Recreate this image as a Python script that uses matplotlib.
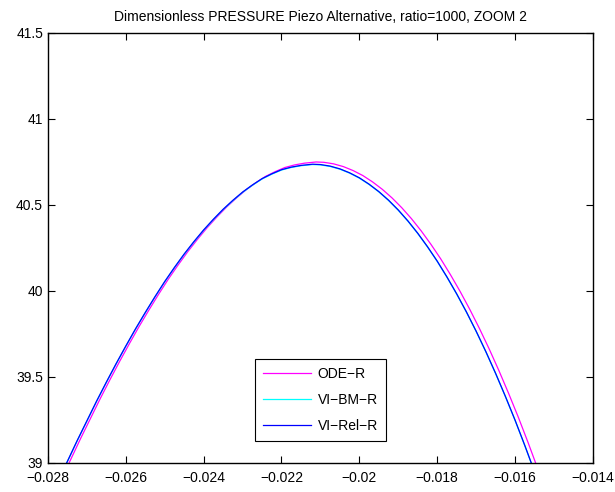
import matplotlib
matplotlib.use("Agg")
import matplotlib.pyplot as plt

plt.rcParams['font.family'] = ['Liberation Sans', 'DejaVu Sans']

# VI-Rel-R (blue)
rel_x = [-0.0276, -0.0275, -0.02725, -0.0270, -0.02675, -0.0265, -0.02625, -0.0260,
         -0.02575, -0.0255, -0.02525, -0.0250, -0.02475, -0.0245, -0.02425, -0.0240,
         -0.02375, -0.0235, -0.02325, -0.0230, -0.02275, -0.0225, -0.02225, -0.0220,
         -0.02175, -0.0215, -0.0212, -0.0210, -0.02075, -0.0205, -0.02025, -0.0200,
         -0.01975, -0.0195, -0.01925, -0.0190, -0.01875, -0.0185, -0.01825, -0.0180,
         -0.01775, -0.0175, -0.01725, -0.0170, -0.01675, -0.0165, -0.01625, -0.0160,
         -0.01575, -0.0155]
rel_y = [38.963, 39.01, 39.13, 39.245, 39.36, 39.47, 39.577, 39.68,
         39.78, 39.875, 39.967, 40.055, 40.137, 40.215, 40.287, 40.355,
         40.417, 40.475, 40.527, 40.575, 40.616, 40.653, 40.681, 40.705,
         40.72, 40.73, 40.737, 40.735, 40.726, 40.710, 40.687, 40.658,
         40.621, 40.578, 40.528, 40.471, 40.407, 40.336, 40.258, 40.174,
         40.082, 39.984, 39.879, 39.767, 39.648, 39.522, 39.389, 39.250,
         39.103, 38.950]

# VI-BM-R (cyan), almost on top of the blue one
bm_x = rel_x
bm_y = [38.961, 39.008, 39.128, 39.243, 39.358, 39.468, 39.575, 39.678,
        39.778, 39.873, 39.965, 40.053, 40.135, 40.213, 40.285, 40.353,
        40.415, 40.473, 40.525, 40.573, 40.614, 40.651, 40.679, 40.703,
        40.718, 40.728, 40.735, 40.733, 40.724, 40.708, 40.685, 40.656,
        40.619, 40.576, 40.526, 40.469, 40.405, 40.334, 40.256, 40.172,
        40.080, 39.982, 39.877, 39.765, 39.646, 39.520, 39.387, 39.248,
        39.101, 38.948]

# ODE-R (magenta), slightly higher and to the right
ode_x = [-0.02751, -0.02741, -0.02716, -0.02691, -0.02666, -0.02641, -0.02616, -0.02591,
         -0.02566, -0.02541, -0.02516, -0.02491, -0.02466, -0.02441, -0.02416, -0.02391,
         -0.02366, -0.02341, -0.02316, -0.02291, -0.02266, -0.02241, -0.02216, -0.02191,
         -0.02166, -0.02141, -0.02111, -0.02091, -0.02066, -0.02041, -0.02016, -0.01991,
         -0.01966, -0.01941, -0.01916, -0.01891, -0.01866, -0.01841, -0.01816, -0.01791,
         -0.01766, -0.01741, -0.01716, -0.01691, -0.01666, -0.01641, -0.01616, -0.01591,
         -0.01566, -0.01541]
ode_y = [38.976, 39.023, 39.143, 39.258, 39.373, 39.483, 39.590, 39.693,
         39.793, 39.888, 39.980, 40.068, 40.150, 40.228, 40.300, 40.368,
         40.430, 40.488, 40.540, 40.588, 40.629, 40.666, 40.694, 40.718,
         40.733, 40.743, 40.750, 40.748, 40.739, 40.723, 40.700, 40.671,
         40.634, 40.591, 40.541, 40.484, 40.420, 40.349, 40.271, 40.187,
         40.095, 39.997, 39.892, 39.780, 39.661, 39.535, 39.402, 39.263,
         39.116, 38.963]

xticks = [-0.028, -0.026, -0.024, -0.022, -0.02, -0.018, -0.016, -0.014]
xlabels = ['\u22120.028', '\u22120.026', '\u22120.024', '\u22120.022',
           '\u22120.02', '\u22120.018', '\u22120.016', '\u22120.014']
yticks = [39, 39.5, 40, 40.5, 41, 41.5]
ylabels = ['39', '39.5', '40', '40.5', '41', '41.5']

fig = plt.figure(figsize=(6.15, 4.92), dpi=100)
ax = fig.add_axes([0.078, 0.059, 0.886, 0.874])

ax.plot(ode_x, ode_y, color='#ff00ff', lw=0.9, label='ODE\u2212R')
ax.plot(bm_x, bm_y, color='#00ffff', lw=0.9, label='VI\u2212BM\u2212R')
ax.plot(rel_x, rel_y, color='#0000ff', lw=0.9, label='VI\u2212Rel\u2212R')

ax.set_xlim(-0.028, -0.014)
ax.set_ylim(39, 41.5)
ax.set_xticks(xticks)
ax.set_xticklabels(xlabels)
ax.set_yticks(yticks)
ax.set_yticklabels(ylabels)
ax.tick_params(direction='in', top=True, right=True, length=5, width=0.8,
               labelsize=10)
ax.tick_params(axis='x', pad=5.5)
ax.tick_params(axis='y', pad=3.5)
for s in ax.spines.values():
    s.set_linewidth(1.0)

ax.set_title('Dimensionless PRESSURE Piezo Alternative, ratio=1000, ZOOM 2',
             fontsize=10, pad=8.5)

leg = ax.legend(loc='lower center', bbox_to_anchor=(0.5, 0.051), fontsize=10,
                fancybox=False, framealpha=1, edgecolor='black',
                handlelength=3.5, handletextpad=0.45, labelspacing=0.85,
                borderpad=0.6, borderaxespad=0)
leg.get_frame().set_linewidth(0.8)

fig.savefig('out.png', dpi=100)
